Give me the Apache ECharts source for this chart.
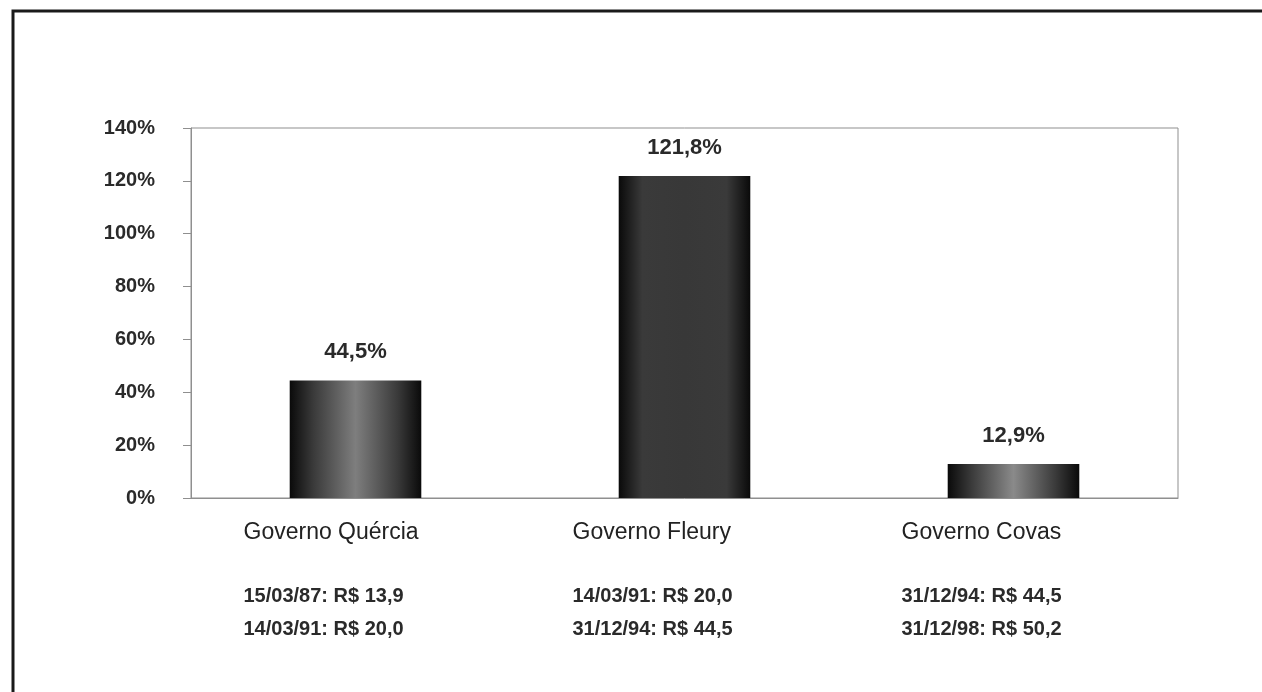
<!DOCTYPE html>
<html>
<head>
<meta charset="utf-8">
<script src="https://cdn.jsdelivr.net/npm/echarts@6/dist/echarts.min.js"></script>
<style>
  html, body { margin: 0; padding: 0; background: #fff; }
  #chart { width: 1262px; height: 692px; }
</style>
</head>
<body>
<div id="chart"></div>
<script>
const governos = ['Governo Quércia', 'Governo Fleury', 'Governo Covas'];
const variacao = [44.5, 121.8, 12.9];
const dataInicio = ['15/03/87: R$ 13,9', '14/03/91: R$ 20,0', '31/12/94: R$ 44,5'];
const dataFim = ['14/03/91: R$ 20,0', '31/12/94: R$ 44,5', '31/12/98: R$ 50,2'];

// centre shade of each bar (edges go to near black)
const centreShade = ['#7e7e7e', '#383838', '#8a8a8a'];

const chart = echarts.init(document.getElementById('chart'));

function shade(c) {
  return new echarts.graphic.LinearGradient(0, 0, 1, 0, [
    { offset: 0, color: '#0a0a0a' },
    { offset: 0.18, color: '#3a3a3a' },
    { offset: 0.5, color: c },
    { offset: 0.82, color: '#3a3a3a' },
    { offset: 1, color: '#0a0a0a' }
  ]);
}

chart.setOption({
  animation: false,
  textStyle: { fontFamily: 'Liberation Sans, Arial, sans-serif' },
  graphic: [{
    type: 'polyline',
    shape: { points: [[13, 692], [13, 11], [1262, 11]] },
    style: { stroke: '#1a1a1a', lineWidth: 3, fill: null }
  }],
  grid: {
    left: 191, right: 84, top: 128, bottom: 194,
    show: true, borderColor: '#8f8f8f', borderWidth: 1
  },
  xAxis: {
    type: 'category',
    data: governos,
    axisTick: { show: false },
    axisLine: { lineStyle: { color: '#8f8f8f', width: 1 } },
    axisLabel: {
      interval: 0,
      margin: 19,
      formatter: (v, i) => '{n|' + v + '}\n{s| }\n{d|' + dataInicio[i] + '}\n{d|' + dataFim[i] + '}',
      rich: {
        n: { width: 224, align: 'left', fontSize: 23, lineHeight: 32, color: '#222' },
        s: { width: 224, align: 'left', fontSize: 10, lineHeight: 31 },
        d: { width: 224, align: 'left', fontSize: 20, fontWeight: 'bold', lineHeight: 33, color: '#2a2a2a' }
      }
    }
  },
  yAxis: {
    type: 'value',
    min: 0, max: 140, interval: 20,
    splitLine: { show: false },
    axisLine: { show: true, lineStyle: { color: '#8f8f8f', width: 1 } },
    axisTick: { show: true, length: 8, lineStyle: { color: '#8f8f8f' } },
    axisLabel: {
      margin: 36,
      formatter: '{value}%',
      fontSize: 20,
      fontWeight: 'bold',
      color: '#2a2a2a'
    }
  },
  series: [{
    type: 'bar',
    barWidth: '40%',
    data: variacao.map((v, i) => ({ value: v, itemStyle: { color: shade(centreShade[i]) } })),
    label: {
      show: true,
      position: 'top',
      distance: 17,
      fontSize: 22,
      fontWeight: 'bold',
      color: '#2a2a2a',
      formatter: p => p.value.toFixed(1).replace('.', ',') + '%'
    }
  }]
});
</script>
</body>
</html>
